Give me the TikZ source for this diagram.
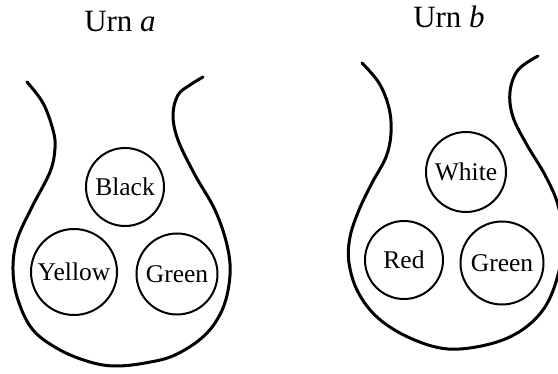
\documentclass[tikz,border=0pt]{standalone}
\usepackage{fontspec}
\setmainfont{Liberation Serif}
\begin{document}
\begin{tikzpicture}[
    x=0.5pt, y=-0.5pt,
    % 1. outline of an urn
    urn/.style={line width=1.5pt, line cap=round, line join=round},
    % 2. balls inside the urns
    ball/.style={circle, draw, line width=1pt, inner sep=0pt,
                 font=\fontsize{12.75}{14}\selectfont},
    % 3. titles above the urns
    urntitle/.style={font=\fontsize{15.5}{18}\selectfont, anchor=base}
  ]
  \useasboundingbox (0,0) rectangle (558,374);
  \clip (0,0) rectangle (558,374);

  % === URN A ===
  \node[urntitle] (titleA) at (120,32) {Urn \textit{a}};
  \draw[urn] plot[smooth, tension=0.6] coordinates {
    (27,82) (43,103) (53,130) (55,148) (50,172) (32,207) (17,240)
    (13,270) (18,300) (33,330) (60,350) (90,362) (115,366) (145,363)
    (175,355) (205,335) (223,308) (230,275) (227,245) (215,210)
    (195,175) (178,140) (173,115) (178,95) (190,85) (203,77)};

  \node[ball, minimum size=39pt] (blackA) at (125,187) {Black};
  \node[ball, minimum size=43pt] (yellowA) at (74,272) {Yellow};
  \node[ball, minimum size=40.5pt] (greenA) at (177,274) {Green};

  % === URN B ===
  \node[urntitle] (titleB) at (449,28) {Urn \textit{b}};
  \draw[urn] plot[smooth, tension=0.6] coordinates {
    (362,63) (379,83) (389,108) (391,133) (386,157) (372,183) (359,210)
    (350,237) (349,263) (358,292) (378,318) (410,338) (448,349)
    (490,344) (522,330) (545,307) (558,275) (563,240) (558,205)
    (545,175) (527,145) (513,117) (510,92) (518,70) (538,56)};

  \node[ball, minimum size=40pt] (whiteB) at (466,172) {White};
  \node[ball, minimum size=39pt] (redB) at (404,260) {Red};
  \node[ball, minimum size=41.5pt] (greenB) at (502,263) {Green};

\end{tikzpicture}
\end{document}
